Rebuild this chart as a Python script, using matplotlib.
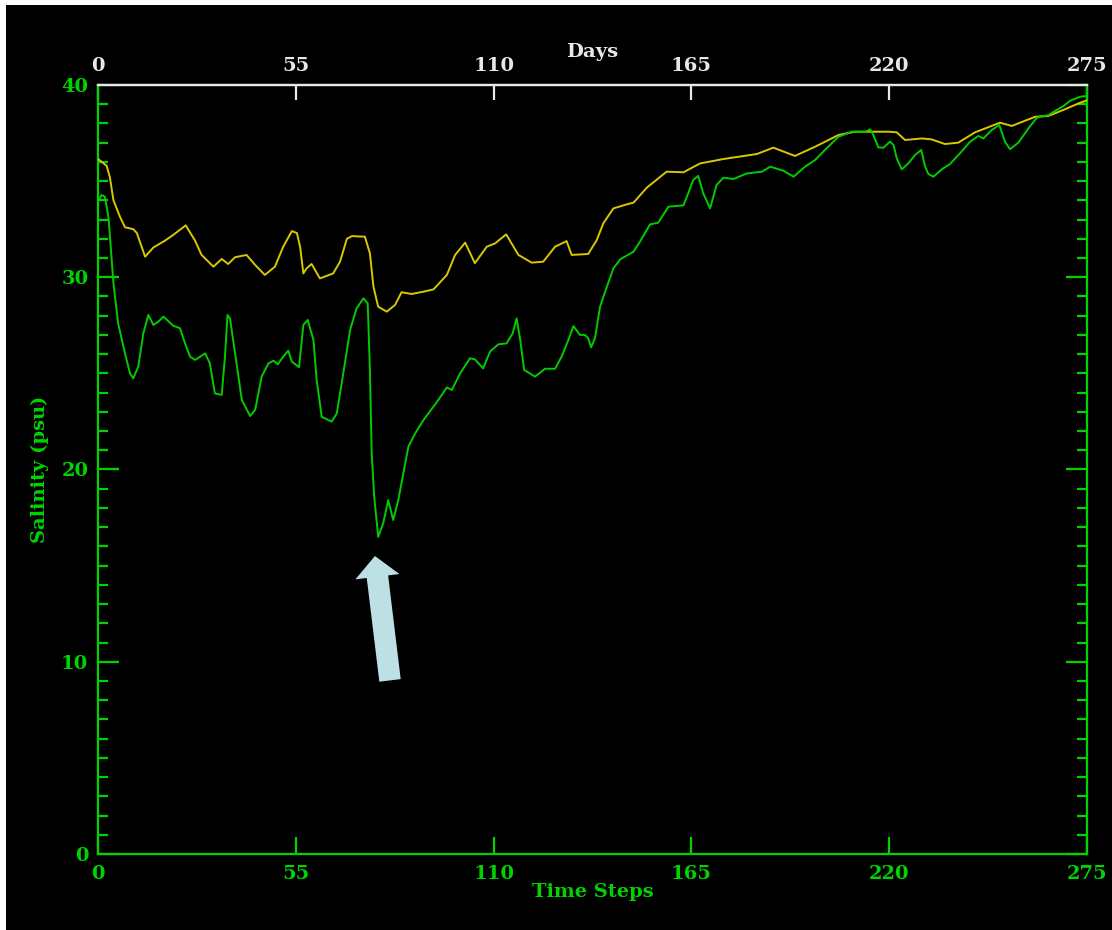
import matplotlib
matplotlib.use("Agg")
import matplotlib.pyplot as plt
from matplotlib.patches import Rectangle
from matplotlib.ticker import MultipleLocator, FixedLocator

# ---- data -------------------------------------------------------------
upper_steps = [0, 2.4, 3.3, 4.3, 6.1, 7.5, 9.8, 10.8, 13.1, 15.4, 18.6, 20.9, 24.4,
               27.0, 28.8, 32.1, 34.4, 36.2, 38.1, 41.3, 43.7, 46.4, 49.2, 51.5, 53.9,
               55.3, 56.2, 57.1, 58.0, 59.4, 61.7, 65.4, 67.3, 69.2, 70.6, 74.2, 75.6,
               76.6, 77.9, 80.3, 82.6, 84.4, 87.2, 90.5, 93.3, 97.0, 99.3, 102.1, 104.8,
               108.1, 110.4, 113.5, 116.9, 120.6, 123.8, 127.1, 130.3, 131.7, 136.3,
               138.7, 140.5, 143.3, 147.0, 148.9, 152.6, 158.1, 162.8, 167.4, 173.9,
               183.2, 187.8, 193.8, 199.4, 205.9, 210.5, 219.8, 222.1, 224.4, 229.1,
               231.8, 235.5, 239.2, 243.9, 250.8, 254.1, 260.6, 264.3, 268.9, 273.1, 275]
upper_sal = [36.15, 35.8, 35.2, 34.0, 33.15, 32.6, 32.5, 32.3, 31.07, 31.55, 31.9, 32.2,
             32.7, 31.9, 31.16, 30.55, 30.95, 30.69, 31.04, 31.16, 30.64, 30.12, 30.55,
             31.59, 32.4, 32.3, 31.59, 30.2, 30.46, 30.69, 29.94, 30.2, 30.81, 32.0,
             32.14, 32.11, 31.25, 29.5, 28.47, 28.21, 28.56, 29.22, 29.13, 29.25, 29.37,
             30.12, 31.16, 31.8, 30.73, 31.59, 31.76, 32.23, 31.16, 30.76, 30.81, 31.59,
             31.88, 31.16, 31.21, 31.94, 32.8, 33.58, 33.79, 33.88, 34.66, 35.49, 35.46,
             35.92, 36.15, 36.41, 36.74, 36.31, 36.79, 37.4, 37.57, 37.57, 37.54, 37.14,
             37.22, 37.17, 36.93, 37.0, 37.54, 38.04, 37.87, 38.35, 38.39, 38.74, 39.08,
             39.2]

lower_steps = [0, 1.0, 1.9, 2.9, 4.3, 5.6, 7.5, 8.9, 9.8, 11.2, 12.6, 14.0, 15.4, 16.8,
               18.2, 20.9, 22.8, 24.2, 25.6, 27.0, 29.8, 31.1, 32.5, 34.4, 35.3, 36.0,
               36.7, 38.1, 40.0, 42.3, 43.7, 45.5, 47.4, 48.8, 50.0, 51.5, 52.9, 53.9,
               55.9, 57.1, 58.3, 59.9, 60.8, 62.2, 65.0, 66.4, 68.2, 70.1, 71.9, 73.8,
               75.0, 75.6, 76.1, 76.8, 77.9, 79.3, 80.7, 82.1, 83.5, 84.9, 86.3, 88.2,
               90.5, 94.6, 97.0, 98.4, 100.7, 103.4, 104.8, 107.1, 109.0, 111.3, 113.6,
               115.3, 116.4, 117.4, 118.5, 119.7, 121.5, 124.3, 127.1, 128.9, 130.8,
               132.2, 134.0, 135.4, 136.3, 137.1, 138.2, 139.6, 141.5, 143.3, 145.2,
               148.9, 150.7, 153.5, 155.8, 158.6, 162.8, 164.1, 165.5, 166.9, 168.3,
               170.2, 172.0, 173.9, 176.7, 180.4, 184.6, 186.9, 190.6, 193.4, 196.6,
               199.4, 202.6, 205.9, 209.6, 213.3, 214.7, 215.6, 217.0, 218.4, 220.2,
               221.2, 222.1, 223.5, 225.3, 227.2, 228.9, 230.0, 230.9, 232.3, 234.6,
               236.9, 239.7, 242.5, 244.8, 246.2, 248.5, 250.6, 252.2, 253.6, 255.9,
               258.7, 261.1, 264.3, 266.2, 268.5, 270.3, 273.1, 275]
lower_sal = [33.93, 34.28, 34.19, 33.15, 29.68, 27.6, 26.04, 25.0, 24.74, 25.35, 27.08,
             28.04, 27.52, 27.69, 27.95, 27.48, 27.35, 26.56, 25.87, 25.7, 26.04, 25.52,
             23.96, 23.88, 25.87, 28.04, 27.86, 26.04, 23.61, 22.78, 23.1, 24.83, 25.52,
             25.66, 25.47, 25.87, 26.18, 25.61, 25.32, 27.52, 27.78, 26.74, 24.66, 22.74,
             22.49, 22.92, 25.0, 27.26, 28.38, 28.9, 28.64, 25.18, 20.84, 18.59, 16.5,
             17.2, 18.41, 17.37, 18.41, 19.8, 21.19, 21.88, 22.57, 23.61, 24.27, 24.14,
             25.0, 25.78, 25.73, 25.26, 26.13, 26.51, 26.56, 27.08, 27.86, 26.74, 25.18,
             25.04, 24.83, 25.24, 25.24, 25.87, 26.74, 27.46, 27.0, 27.0, 26.83, 26.35,
             26.83, 28.47, 29.51, 30.46, 30.93, 31.33, 31.85, 32.75, 32.84, 33.67, 33.74,
             34.36, 35.06, 35.27, 34.36, 33.58, 34.8, 35.18, 35.11, 35.4, 35.49, 35.75,
             35.54, 35.23, 35.75, 36.1, 36.71, 37.31, 37.57, 37.57, 37.69, 37.4, 36.75,
             36.74, 37.05, 36.88, 36.19, 35.61, 35.92, 36.36, 36.62, 35.75, 35.37, 35.23,
             35.61, 35.89, 36.45, 37.05, 37.35, 37.22, 37.66, 37.92, 37.05, 36.66, 37.0,
             37.74, 38.31, 38.43, 38.66, 38.91, 39.18, 39.39, 39.43]

x_ticks = [0, 55, 110, 165, 220, 275]
y_ticks = [0, 10, 20, 30, 40]

# arrow pointing at the salinity minimum (tail -> tip, in time steps / psu)
arrow_tail = (81.2, 9.03)
arrow_tip = (77.0, 15.5)

# ---- style ------------------------------------------------------------
GREEN = "#00d400"
LINE_GREEN = "#00cc00"
YELLOW = "#d8c800"
WHITE = "#e8e8e8"
ARROW = "#bde0e4"
FONT = dict(family="DejaVu Serif", weight="bold", size=14)

W, H = 1112, 930
fig = plt.figure(figsize=(W / 100, H / 100), dpi=100, facecolor="white")
# black panel behind everything
panel = Rectangle((6 / W, 0), 1 - 6 / W, 1 - 5 / H, transform=fig.transFigure,
                  facecolor="black", edgecolor="none", zorder=-10)
fig.add_artist(panel)

ax = fig.add_axes([98 / W, (H - 854) / H, (1087 - 98) / W, (854 - 85) / H])
ax.set_facecolor("black")
ax.set_zorder(1)

ax.plot(upper_steps, upper_sal, color=YELLOW, lw=1.4, zorder=3)
ax.plot(lower_steps, lower_sal, color=LINE_GREEN, lw=1.4, zorder=3)

ax.set_xlim(0, 275)
ax.set_ylim(0, 40)

for side in ("left", "right", "bottom"):
    ax.spines[side].set_color(GREEN)
    ax.spines[side].set_linewidth(1.6)
ax.spines["top"].set_color(WHITE)
ax.spines["top"].set_linewidth(1.6)

# y axis: major every 10, minor every 1, ticks on both sides pointing inward
ax.yaxis.set_major_locator(FixedLocator(y_ticks))
ax.yaxis.set_minor_locator(MultipleLocator(1))
ax.tick_params(axis="y", which="major", direction="in", length=15, width=1.6,
               color=GREEN, labelcolor=GREEN, left=True, right=True, pad=7)
ax.tick_params(axis="y", which="minor", direction="in", length=7.5, width=1.6,
               color=GREEN, left=True, right=True)
ax.set_yticklabels([str(v) for v in y_ticks], fontdict=FONT)

# bottom x axis: time steps
ax.xaxis.set_major_locator(FixedLocator(x_ticks))
ax.tick_params(axis="x", which="major", direction="in", length=12, width=1.6,
               color=GREEN, labelcolor=GREEN, bottom=True, top=False, pad=8)
ax.set_xticklabels([str(v) for v in x_ticks], fontdict=FONT)
ax.set_xlabel("Time Steps", color=GREEN, fontdict=FONT, labelpad=0)
ax.set_ylabel("Salinity (psu)", color=GREEN, fontdict=FONT, labelpad=9)

# top x axis: days
top = ax.secondary_xaxis("top")
top.set_xticks(x_ticks)
top.set_xticklabels([str(v) for v in x_ticks], fontdict=FONT)
top.tick_params(direction="in", length=11, width=1.6, color=WHITE, labelcolor=WHITE, pad=7)
top.spines["top"].set_color(WHITE)
top.spines["top"].set_linewidth(1.6)
top.set_xlabel("Days", color=WHITE, fontdict=FONT, labelpad=0)

ax.annotate("", xy=arrow_tip, xytext=arrow_tail,
            arrowprops=dict(arrowstyle="simple,head_length=1.5,head_width=3.2,tail_width=1.55",
                            mutation_scale=10, color=ARROW, shrinkA=0, shrinkB=0, lw=0),
            zorder=4)

fig.savefig("out.png", dpi=100, facecolor=fig.get_facecolor())
